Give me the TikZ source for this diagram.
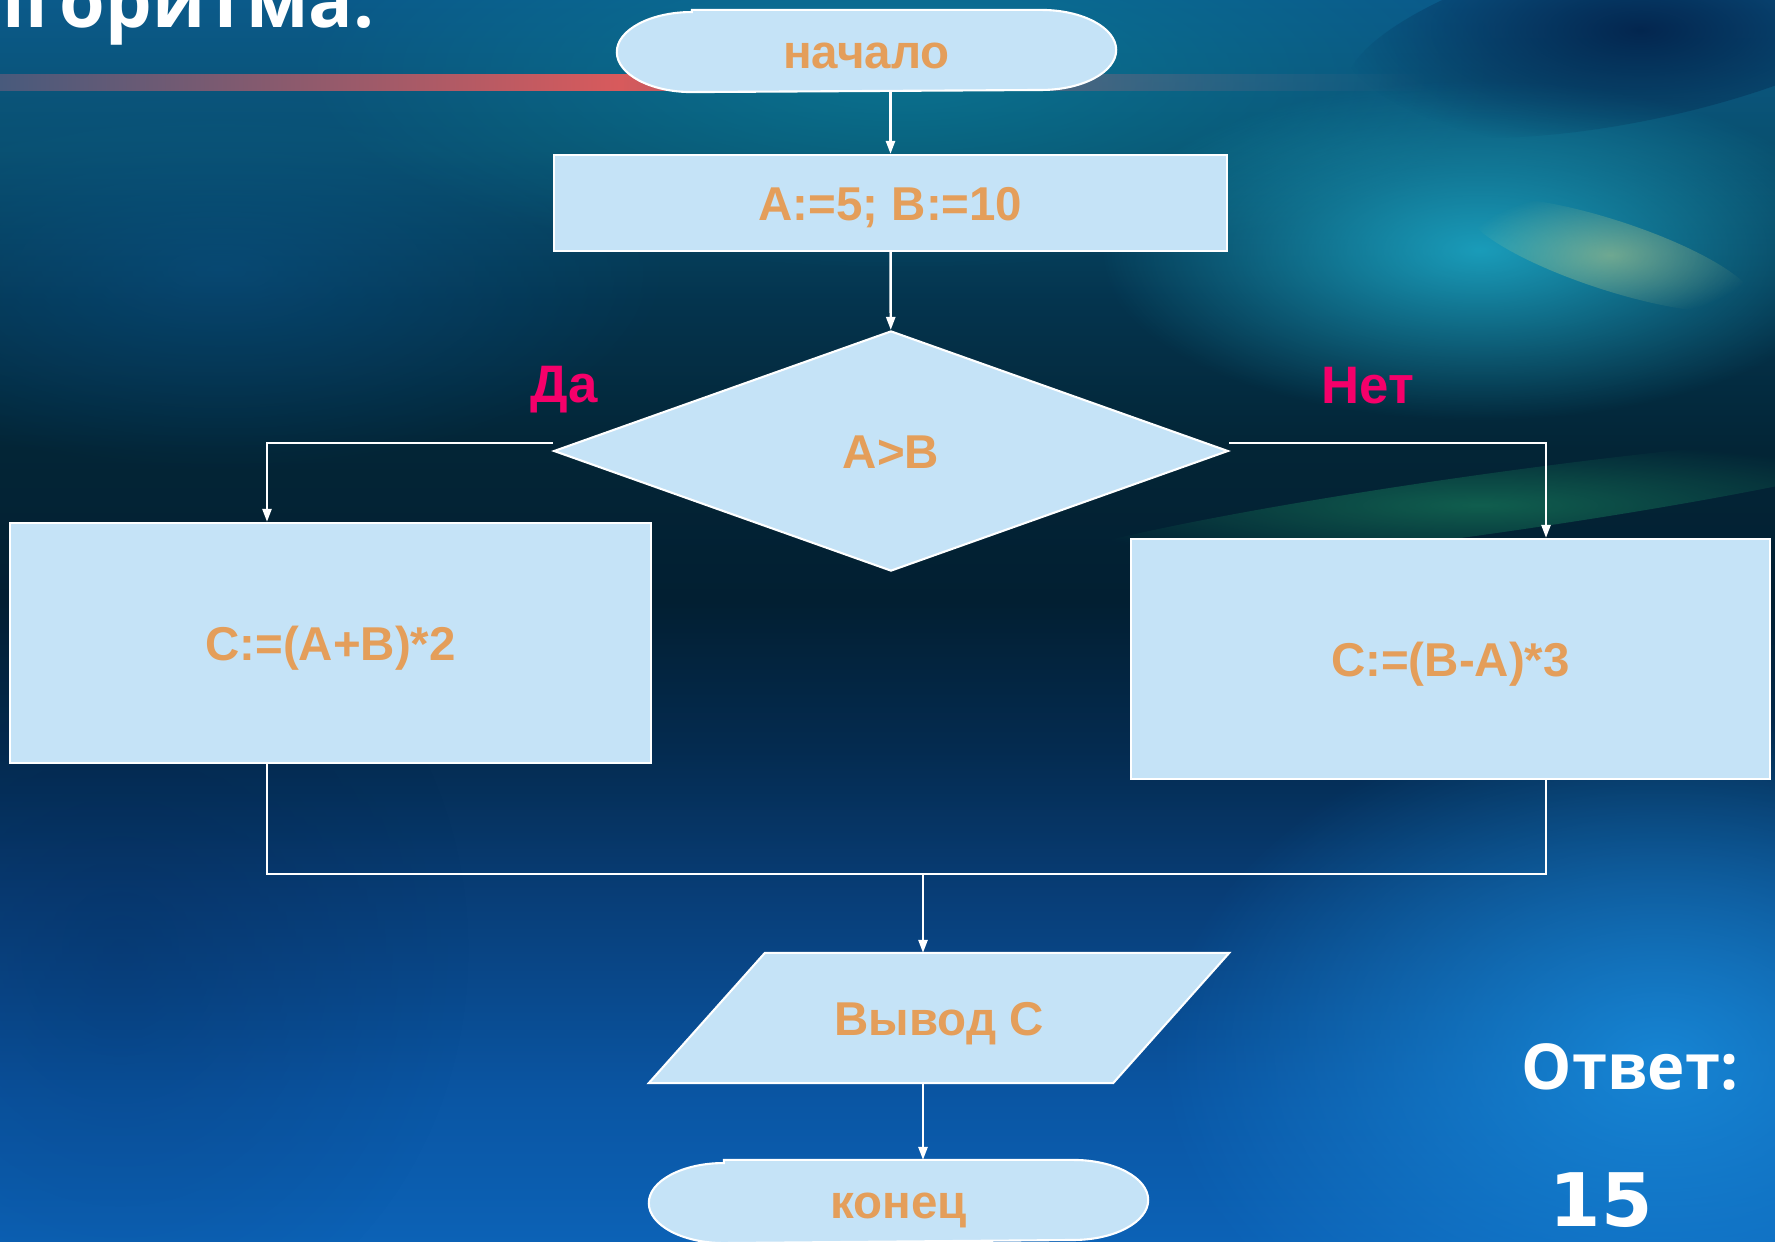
\documentclass[tikz,border=0pt]{standalone}
\usepackage{fontspec}
\setmainfont{Liberation Sans}
\newfontfamily\titlefont{Open Sans}
\newfontfamily\numfont{DejaVu Sans}
\usetikzlibrary{shapes.geometric,arrows.meta,fadings}
\pgfdeclarelayer{bgimg}
\pgfdeclarelayer{edges}
\pgfdeclarelayer{shp}
\pgfsetlayers{bgimg,edges,shp,main}
\definecolor{boxfill}{HTML}{C5E3F7}
\definecolor{txt}{HTML}{E49E5A}
\definecolor{mag}{HTML}{F5006A}
\definecolor{s0}{HTML}{0C62B6}
\definecolor{s1}{HTML}{0A56A4}
\definecolor{s2}{HTML}{083E78}
\definecolor{s3}{HTML}{042B50}
\definecolor{s4}{HTML}{021F32}
\definecolor{s5}{HTML}{032536}
\definecolor{s6}{HTML}{04344E}
\definecolor{s7}{HTML}{09506F}
\definecolor{s8}{HTML}{0B5A8A}
\definecolor{glowcyan}{HTML}{1FB4D2}
\definecolor{glowteal}{HTML}{0A8AA0}
\definecolor{glowblue}{HTML}{1A92E2}
\definecolor{glowmid}{HTML}{0A5A96}
\definecolor{glowgreen}{HTML}{1E9A68}
\definecolor{glowyel}{HTML}{E0E08A}
\definecolor{navy}{HTML}{021A42}
\definecolor{barL}{HTML}{485A7C}
\definecolor{barR}{HTML}{D85A5C}
\definecolor{barG}{HTML}{5E6A8E}
\pgfdeclareverticalshading{bgshade}{100bp}{color(0bp)=(s0); color(25bp)=(s0); color(30.7bp)=(s1); color(38.8bp)=(s2); color(44.8bp)=(s3); color(50.8bp)=(s4); color(56.9bp)=(s5); color(62.9bp)=(s6); color(69bp)=(s7); color(75bp)=(s8); color(100bp)=(s8)}
\tikzfading[name=fadeR, left color=transparent!0, middle color=transparent!15, right color=transparent!100]
\tikzfading[name=glowfade, inner color=transparent!0, outer color=transparent!100]
\begin{document}
\begin{tikzpicture}[x=0.01cm,y=-0.01cm,
  blk/.style={draw=white, line width=0.6pt, fill=boxfill, text=txt,
    font=\bfseries\fontsize{13.5}{16}\selectfont, inner sep=0,
    text height=9.7pt, text depth=0pt},
  shapeline/.style={draw=white, line width=0.6pt, fill=boxfill},
  term/.style={blk, draw=none, fill=none, rectangle},
  conn/.style={draw=white, line width=0.7pt},
  arr/.style={conn, -{Triangle[length=0.13cm,width=0.09cm]}},
  yesno/.style={text=mag, font=\bfseries\fontsize{15}{18}\selectfont, inner sep=0,
    text height=10.7pt, text depth=0pt},
  whitetext/.style={text=white, inner sep=0, anchor=base}]
\useasboundingbox (0,0) rectangle (1775,1242);

% ---------- background ----------
\begin{pgfonlayer}{bgimg}
\shade[shading=bgshade] (0,0) rectangle (1775,1242);
\fill[glowmid, opacity=.45, path fading=glowfade] (220,270) ellipse [x radius=4.5cm, y radius=2cm];
\fill[glowteal, opacity=.55, path fading=glowfade] (900,70) ellipse [x radius=6cm, y radius=2cm];
\fill[glowcyan, opacity=.8, path fading=glowfade] (1480,250) ellipse [x radius=3.8cm, y radius=1.7cm];
\fill[glowyel, opacity=.45, path fading=glowfade, rotate around={-18:(1610,255)}] (1610,255) ellipse [x radius=1.5cm, y radius=0.35cm];
\fill[navy, opacity=.8, path fading=glowfade, rotate around={12:(1640,30)}] (1640,30) ellipse [x radius=3cm, y radius=0.9cm];
\fill[glowgreen, opacity=.5, path fading=glowfade, rotate around={8:(1480,505)}] (1480,505) ellipse [x radius=4.5cm, y radius=0.3cm];
\fill[glowblue, opacity=.8, path fading=glowfade] (1660,1060) ellipse [x radius=5cm, y radius=3.5cm];
\fill[navy, opacity=.2, path fading=glowfade] (120,950) ellipse [x radius=3.5cm, y radius=4cm];
% top bar
\shade[left color=barL, right color=barR] (0,74) rectangle (620,90);
\shade[left color=barR, right color=barG, path fading=fadeR] (620,74) rectangle (1430,90);
\end{pgfonlayer}

% ---------- title & answer ----------
\node[whitetext, anchor=base east, font=\titlefont\bfseries\fontsize{21}{21}\selectfont] (title) at (375,27) {алгоритма:};
\node[whitetext, font=\titlefont\bfseries\fontsize{18}{18}\selectfont] (ans) at (1630,1089) {Ответ:};
\node[whitetext, font=\numfont\bfseries\fontsize{21}{21}\selectfont] (num) at (1601,1226) {15};

% ---------- nodes ----------
\node[term, minimum width=4.97cm, minimum height=0.8cm] (start) at (866.5,51) {начало};
\node[blk, rectangle, minimum width=6.73cm, minimum height=0.96cm] (init) at (890.5,203) {A:=5; B:=10};
\node[blk, diamond, minimum width=6.74cm, minimum height=2.4cm] (dia) at (891,451) {A>B};
\node[blk, rectangle, minimum width=6.41cm, minimum height=2.4cm] (lbox) at (330.5,643) {C:=(A+B)*2};
\node[blk, rectangle, minimum width=6.39cm, minimum height=2.4cm] (rbox) at (1450.5,659) {C:=(B-A)*3};
\node[blk, draw=none, fill=none, rectangle, minimum width=5.78cm, minimum height=1.28cm] (out) at (939,1018) {Вывод C};
\node[term, minimum width=4.97cm, minimum height=0.81cm] (endn) at (898.5,1201.5) {конец};

\node[yesno] (yes) at (564,384) {Да};
\node[yesno] (no) at (1368,385) {Нет};

% shapes drawn beneath the node texts
\begin{pgfonlayer}{shp}
\foreach \t in {start,endn}{
  \path[shapeline] ([xshift=0.75cm]\t.north west) -- ([xshift=-0.75cm]\t.north east)
    arc[start angle=90, end angle=-90, x radius=0.75cm, y radius=0.4cm]
    -- ([xshift=0.75cm]\t.south west)
    arc[start angle=270, end angle=90, x radius=0.75cm, y radius=0.4cm] -- cycle;
}
\path[shapeline] ([xshift=1.16cm]out.north west) -- (out.north east)
  -- ([xshift=-1.16cm]out.south east) -- (out.south west) -- cycle;
\end{pgfonlayer}

\coordinate (lturn) at (267,443);
\coordinate (rturn) at (1546,443);
\coordinate (mL) at (267,874);
\coordinate (mR) at (1546,874);
\coordinate (mC) at (923,874);

% ---------- connectors ----------
\begin{pgfonlayer}{edges}
\draw[arr] (start.south -| init.north) -- (init.north);
\draw[arr] (init) -- (dia);
\draw[arr] (dia.west |- lturn) -- (lturn) -- (lturn |- lbox.north);
\draw[arr] (dia.east |- rturn) -- (rturn) -- (rturn |- rbox.north);
\draw[conn] (lbox.south -| mL) -- (mL) -- (mR) -- (rbox.south -| mR);
\draw[arr] (mC) -- (mC |- out.north);
\draw[arr] (mC |- out.south) -- (mC |- endn.north);
\end{pgfonlayer}
\end{tikzpicture}
\end{document}
